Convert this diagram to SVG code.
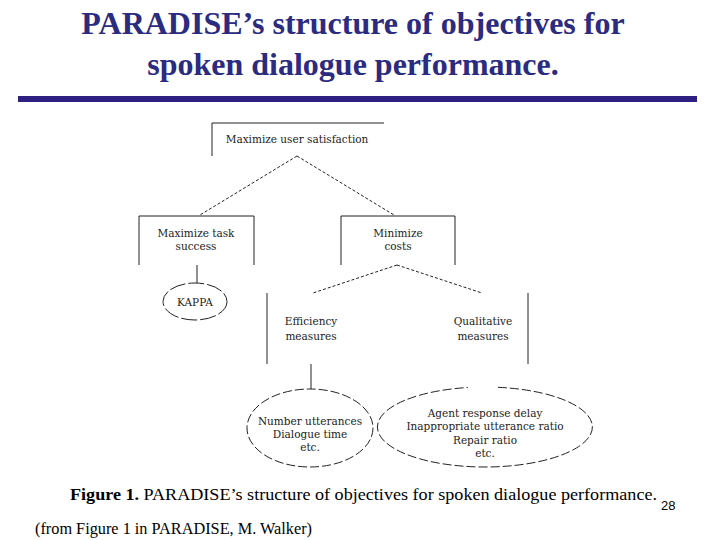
<svg xmlns="http://www.w3.org/2000/svg" width="720" height="540" viewBox="0 0 720 540">
<style>
.title{font-family:"Liberation Serif",serif;font-weight:bold;font-size:32px;fill:#2b2b80;text-anchor:middle}
.box{fill:none;stroke:#222;stroke-width:1}
.dash{fill:none;stroke:#222;stroke-width:1;stroke-dasharray:3 2}
.ell{fill:none;stroke:#222;stroke-width:1;stroke-dasharray:9 3}
.ell2{fill:none;stroke:#222;stroke-width:1;stroke-dasharray:16 3}
.lbl{font-family:"DejaVu Serif",serif;font-size:10.5px;fill:#222;text-anchor:middle}
.cap{font-family:"Liberation Serif",serif;font-size:16px;fill:#000}
</style>
<rect width="720" height="540" fill="#fff"/>
<g id="title">
<text class="title" x="353" y="34">PARADISE’s structure of objectives for</text>
<text class="title" x="353" y="75">spoken dialogue performance.</text>
<rect x="18" y="96" width="679" height="6" fill="#2e2080"/>
</g>
<g id="connectors">
<path class="dash" d="M297,156 L200,215 M297,156 L394,215"/>
<path class="box" d="M197,265 L197,283"/>
<path class="dash" d="M397,265 L313,293 M397,265 L482,293"/>
<path class="box" d="M311,364 L311,389"/>
</g>
<g id="n-satisfaction">
<path class="box" d="M212,156 L212,123 L384,123"/>
<text class="lbl" x="297" y="143">Maximize user satisfaction</text>
</g>
<g id="n-task">
<path class="box" d="M139,265 L139,216 L254,216 L254,265"/>
<text class="lbl" x="196" y="237">Maximize task</text>
<text class="lbl" x="196" y="250">success</text>
</g>
<g id="n-costs">
<path class="box" d="M341,265 L341,216 L455,216 L455,265"/>
<text class="lbl" x="398" y="237">Minimize</text>
<text class="lbl" x="398" y="250">costs</text>
</g>
<g id="n-kappa">
<ellipse class="ell2" cx="195" cy="301.5" rx="32" ry="18.5"/>
<text class="lbl" x="195" y="305.5">KAPPA</text>
</g>
<g id="n-efficiency">
<path class="box" d="M267,293 L267,364"/>
<text class="lbl" x="311" y="325">Efficiency</text>
<text class="lbl" x="311" y="340">measures</text>
</g>
<g id="n-qualitative">
<path class="box" d="M528,293 L528,364"/>
<text class="lbl" x="483" y="325">Qualitative</text>
<text class="lbl" x="483" y="340">measures</text>
</g>
<g id="n-eff-measures">
<ellipse class="ell" cx="310" cy="428" rx="63" ry="39"/>
<text class="lbl" x="310" y="425">Number utterances</text>
<text class="lbl" x="310" y="438">Dialogue time</text>
<text class="lbl" x="310" y="451">etc.</text>
</g>
<g id="n-qual-measures">
<path class="ell" d="M498,387.3 A107.5,40 0 1 1 468,387.5"/>
<text class="lbl" x="485" y="417">Agent response delay</text>
<text class="lbl" x="485" y="430">Inappropriate utterance ratio</text>
<text class="lbl" x="485" y="444">Repair ratio</text>
<text class="lbl" x="485" y="457">etc.</text>
</g>
<g id="caption">
<text class="cap" x="70" y="500" textLength="587" lengthAdjust="spacingAndGlyphs"><tspan font-weight="bold">Figure 1.</tspan> PARADISE’s structure of objectives for spoken dialogue performance.</text>
<text x="661" y="510" font-family="Liberation Sans,sans-serif" font-size="13" fill="#000">28</text>
<text class="cap" x="35" y="534" font-size="15" textLength="277" lengthAdjust="spacingAndGlyphs">(from Figure 1 in PARADISE, M. Walker)</text>
</g>
</svg>
